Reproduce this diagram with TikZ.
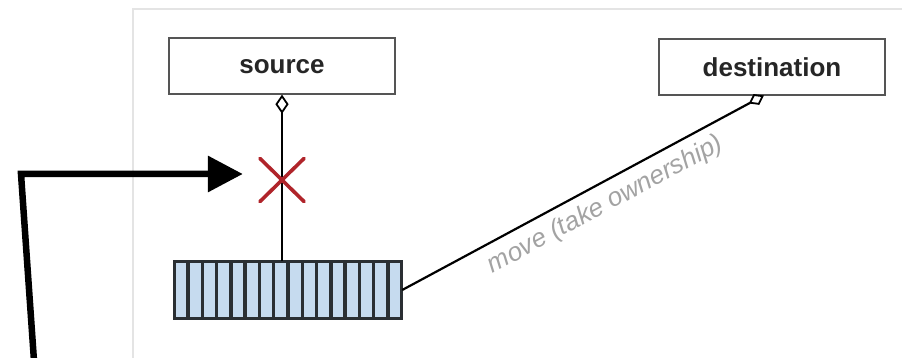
\documentclass[tikz,border=0pt]{standalone}
\usepackage{fontspec}
\setmainfont{Liberation Sans}
\usetikzlibrary{arrows.meta,calc,shapes.geometric}
\definecolor{boxline}{HTML}{555555}
\definecolor{boxtext}{HTML}{262626}
\definecolor{cellblue}{HTML}{C6DBEF}
\definecolor{cellline}{HTML}{2A2F33}
\definecolor{crossred}{HTML}{B0242A}
\definecolor{panelline}{HTML}{E4E4E4}
\definecolor{labelgray}{HTML}{A3A3A3}
\begin{document}
\begin{tikzpicture}[x=1pt,y=-1pt,
  boxstyle/.style={draw=boxline, line width=1.8pt, fill=white, minimum width=226pt,
    minimum height=56pt, inner sep=0pt, font=\fontsize{26}{30}\selectfont\bfseries, text=boxtext},
  arraystyle/.style={draw=cellline, line width=2.4pt, fill=cellblue, minimum width=226pt,
    minimum height=56pt, inner sep=0pt},
  divider/.style={draw=cellline, line width=3.4pt},
  conn/.style={line width=2.2pt, black},
  dia/.style={diamond, draw=black, fill=white, line width=1.8pt, inner sep=0pt, outer sep=0pt,
    minimum width=11pt, minimum height=16pt},
  crossline/.style={crossred, line width=3.6pt, line cap=round},
  pointer/.style={line width=6.5pt, black, -{Triangle[length=35pt,width=35pt]}, shorten >=17pt},
  lbl/.style={font=\fontsize{26}{30}\selectfont\itshape, text=labelgray}]
\useasboundingbox (0,0) rectangle (902,358);
\clip (0,0) rectangle (902,358);
\fill[white] (0,0) rectangle (902,358);
\draw[panelline, line width=2pt, fill=white] (132.7,9.5) rectangle (930,380);

\node[boxstyle] (source) at (282,66.3) {source};
\node[boxstyle] (dest) at (772,67) {destination};
\node[arraystyle] (arr) at (288,290) {};
\foreach \i in {1,...,15}
  \draw[divider] ($(arr.north west)!{\i/16}!(arr.north east)$) -- ($(arr.south west)!{\i/16}!(arr.south east)$);
\draw[cellline, line width=2.4pt] (arr.north west) rectangle (arr.south east);

\node[minimum width=44pt, minimum height=43pt, inner sep=0pt] (xmark) at (282,180) {};

\node[dia] (sdia) at ([yshift=-9pt]source.south) {};
\draw[conn] (sdia.south) -- (sdia.south |- arr.north);

\coordinate (dtip) at ([xshift=-9pt]dest.south);
\node[dia, minimum width=10pt, minimum height=14pt, rotate=-62.2] (ddia) at ($(dtip)!7.5pt!(arr.east)$) {};
\draw[conn] (arr.east)
  -- node[lbl, pos=0.555, sloped, below=5pt] {move (take ownership)} (ddia);

\draw[crossline] (xmark.north west) -- (xmark.south east) (xmark.north east) -- (xmark.south west);

\coordinate (astart) at (34.5,368);
\coordinate (acorner) at (21,174);
\draw[pointer] (astart) -- (acorner) -- (acorner -| xmark.west);
\end{tikzpicture}
\end{document}
